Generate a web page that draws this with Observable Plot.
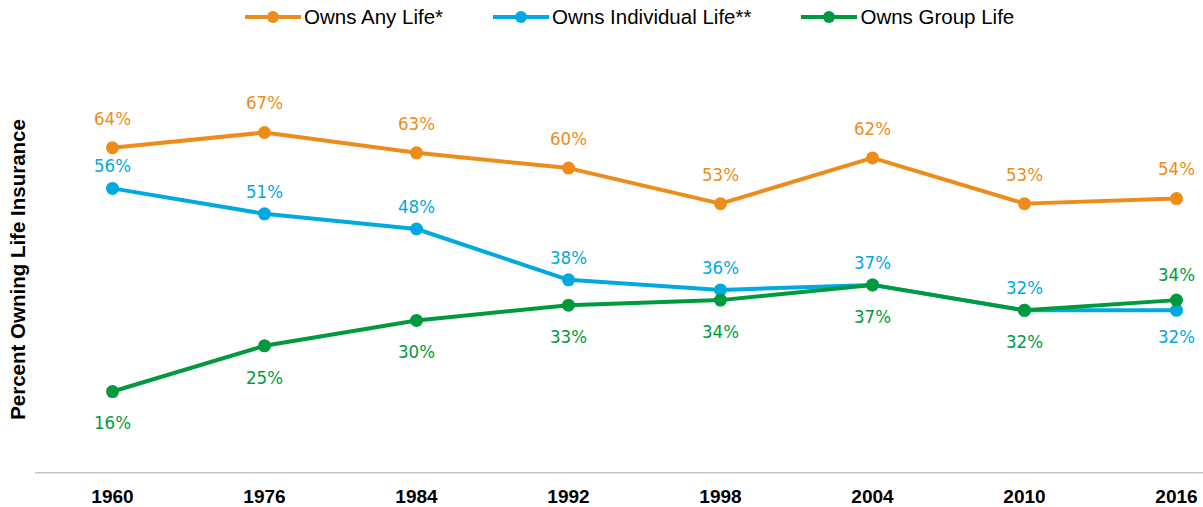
<!DOCTYPE html>
<html><head><meta charset="utf-8">
<script src="https://cdn.jsdelivr.net/npm/d3@7"></script>
<script src="https://cdn.jsdelivr.net/npm/@observablehq/plot@0.6"></script>
<style>
body{margin:0;background:#fff;font-family:"Liberation Sans",Arial,sans-serif;color:#000;}
#legend{height:34px;display:flex;align-items:center;padding-left:245px;font-size:20.5px;}
.item{display:flex;align-items:center;margin-right:50px;}
.item svg{margin-right:3px;}
</style></head><body>
<div id="legend"></div><div id="chart"></div>
<script>
const years = ["1960","1976","1984","1992","1998","2004","2010","2016"];
const anyLife = [64,67,63,60,53,62,53,54];
const individualLife = [56,51,48,38,36,37,32,32];
const groupLife = [16,25,30,33,34,37,32,34];
const seriesNames = ["Owns Any Life*","Owns Individual Life**","Owns Group Life"];
const seriesColors = ["#EE8C1A","#00A9E0","#009A3E"];
const yTitle = "Percent Owning Life Insurance";

const seriesValues = [anyLife, individualLife, groupLife];
const data = [];
seriesNames.forEach((s, i) => years.forEach((y, j) => data.push({series: s, year: y, value: seriesValues[i][j]})));

// legend
const legend = document.getElementById("legend");
seriesNames.forEach((s, i) => {
  const item = document.createElement("div");
  item.className = "item";
  item.innerHTML = `<svg width="56" height="14"><line x1="0" x2="56" y1="7" y2="7" stroke="${seriesColors[i]}" stroke-width="4"/><circle cx="28" cy="7" r="6" fill="${seriesColors[i]}"/></svg><span>${s}</span>`;
  legend.appendChild(item);
});

const labelFont = "'DejaVu Sans Condensed', 'DejaVu Sans', sans-serif";
const dyFor = d => {
  if (d.series === seriesNames[0]) return -29;
  if (d.series === seriesNames[1]) return d.year === "2016" ? 27 : -22;
  return d.year === "2016" ? -25 : 32;
};
const groups = [-29, -22, -25, 27, 32];

const chart = Plot.plot({
  width: 1203,
  height: 473,
  marginLeft: 35,
  marginRight: 0,
  marginTop: 32,
  marginBottom: 35,
  style: {fontFamily: "'Liberation Sans', Arial, sans-serif", color: "#000", background: "#fff"},
  x: {type: "point", domain: years, range: [111, 1176], padding: 0, label: null},
  y: {domain: [0, 80], range: [438.3, 32], axis: null},
  color: {domain: seriesNames, range: seriesColors},
  marks: [
    Plot.ruleY([0], {stroke: "#c3c3c3", strokeWidth: 1.5}),
    Plot.line(data, {x: "year", y: "value", z: "series", stroke: "series", strokeWidth: 4}),
    Plot.dot(data, {x: "year", y: "value", fill: "series", r: 6.5}),
    ...groups.map(g => Plot.text(data.filter(d => dyFor(d) === g), {
      x: "year", y: "value", text: d => d.value + "%", fill: "series", dy: g,
      fontSize: 18.5, fontFamily: labelFont
    })),
    Plot.axisX({tickSize: 0, tickPadding: 17, fontSize: 19, fontWeight: "bold", label: null}),
    Plot.text([yTitle], {frameAnchor: "left", textAnchor: "middle", rotate: -90, dx: -17, fontSize: 20.5, fontWeight: "bold"})
  ]
});
document.getElementById("chart").appendChild(chart);
</script>
</body></html>
